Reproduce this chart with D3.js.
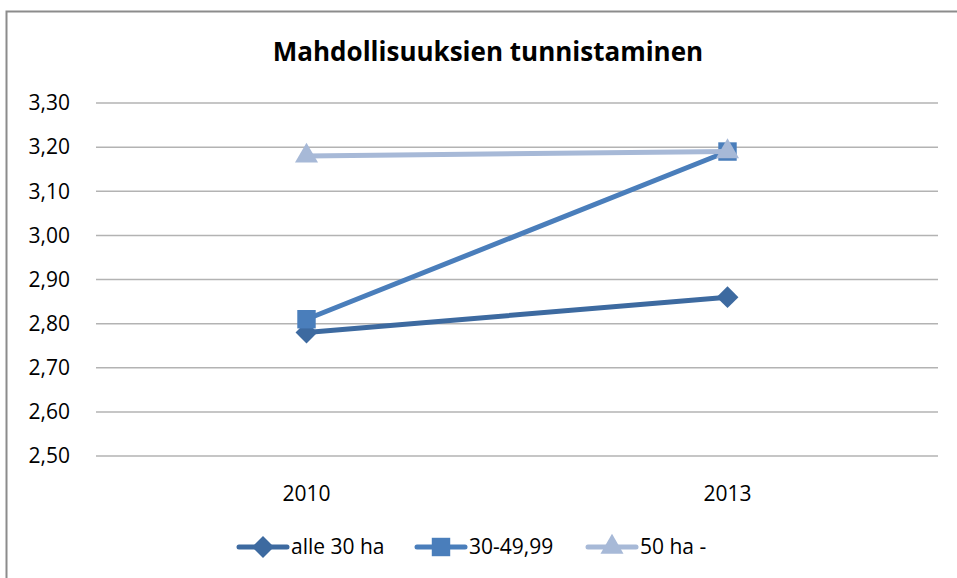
<!DOCTYPE html>
<html>
<head>
<meta charset="utf-8">
<script src="https://cdn.jsdelivr.net/npm/d3@7"></script>
<style>
  body { margin: 0; background: #fff; }
  text { font-family: "Open Sans", "Noto Sans", sans-serif; }
</style>
</head>
<body>
<div id="chart"></div>
<script>
// data
var years = ["2010", "2013"];
var seriesNames = ["alle 30 ha", "30-49,99", "50 ha -"];
var alle30 = [2.78, 2.86];
var mid3050 = [2.81, 3.19];
var yli50 = [3.18, 3.19];
var yTicks = [2.5, 2.6, 2.7, 2.8, 2.9, 3.0, 3.1, 3.2, 3.3];

var svgWidth = 957;
var svgHeight = 578;

var margin = { top: 103, right: 19, bottom: 122, left: 96 };
var width = svgWidth - margin.left - margin.right;
var height = svgHeight - margin.top - margin.bottom;

var colors = ["#3d6aa0", "#4a7ebb", "#a7b9d7"];
var shapes = [d3.symbolSquare, d3.symbolSquare, d3.symbolTriangle];
var sizes = [240, 340, 230];
var rotations = [45, 0, 0];

var svg = d3.select("#chart")
  .append("svg")
  .attr("width", svgWidth)
  .attr("height", svgHeight);

// outer frame
svg.append("rect")
  .attr("x", 6.5).attr("y", 11.5)
  .attr("width", 960).attr("height", 600)
  .attr("fill", "none")
  .attr("stroke", "#8c8c8c")
  .attr("stroke-width", 2);

var chartGroup = svg.append("g")
  .attr("transform", `translate(${margin.left}, ${margin.top})`);

var x = d3.scaleBand().domain(years).range([0, width]);
var y = d3.scaleLinear().domain([2.5, 3.3]).range([height, 0]);

// gridlines
chartGroup.selectAll(".grid")
  .data(yTicks)
  .enter()
  .append("line")
  .attr("x1", 0).attr("x2", width)
  .attr("y1", d => y(d)).attr("y2", d => y(d))
  .attr("stroke", "#b3b3b3")
  .attr("stroke-width", 1.5);

// y labels
chartGroup.selectAll(".ylab")
  .data(yTicks)
  .enter()
  .append("text")
  .attr("x", -26)
  .attr("y", d => y(d))
  .attr("dy", "0.35em")
  .attr("text-anchor", "end")
  .attr("font-size", "21px")
  .attr("fill", "#000")
  .text(d => d3.format(".2f")(d).replace(".", ","));

// x labels
chartGroup.selectAll(".xlab")
  .data(years)
  .enter()
  .append("text")
  .attr("x", d => x(d) + x.bandwidth() / 2)
  .attr("y", height + 38)
  .attr("dy", "0.35em")
  .attr("text-anchor", "middle")
  .attr("font-size", "21px")
  .text(d => d);

var allSeries = [alle30, mid3050, yli50];

var line = d3.line()
  .x((d, i) => x(years[i]) + x.bandwidth() / 2)
  .y(d => y(d));

allSeries.forEach(function(vals, s) {
  chartGroup.append("path")
    .datum(vals)
    .attr("d", line)
    .attr("fill", "none")
    .attr("stroke", colors[s])
    .attr("stroke-width", 5)
    .attr("stroke-linecap", "round");

  chartGroup.selectAll(".m" + s)
    .data(vals)
    .enter()
    .append("path")
    .attr("d", d3.symbol().type(shapes[s]).size(sizes[s]))
    .attr("transform", (d, i) => `translate(${x(years[i]) + x.bandwidth() / 2}, ${y(d)}) rotate(${rotations[s]})`)
    .attr("fill", colors[s]);
});

// title
svg.append("text")
  .attr("x", 488)
  .attr("y", 52)
  .attr("dy", "0.35em")
  .attr("text-anchor", "middle")
  .attr("font-size", "26px")
  .attr("font-weight", "bold")
  .text("Mahdollisuuksien tunnistaminen");

// legend
var legendX = [237, 415, 586];
var legend = svg.selectAll(".legend")
  .data(seriesNames)
  .enter()
  .append("g")
  .attr("transform", (d, i) => `translate(${legendX[i]}, 547)`);

legend.append("line")
  .attr("x1", 2).attr("x2", 50)
  .attr("y1", 0).attr("y2", 0)
  .attr("stroke", (d, i) => colors[i])
  .attr("stroke-width", 5)
  .attr("stroke-linecap", "round");

legend.append("path")
  .attr("d", (d, i) => d3.symbol().type(shapes[i]).size(sizes[i])())
  .attr("transform", (d, i) => `translate(26,0) rotate(${rotations[i]})`)
  .attr("fill", (d, i) => colors[i]);

legend.append("text")
  .attr("x", 54)
  .attr("y", 0)
  .attr("dy", "0.35em")
  .attr("font-size", "21px")
  .text(d => d);
</script>
</body>
</html>
